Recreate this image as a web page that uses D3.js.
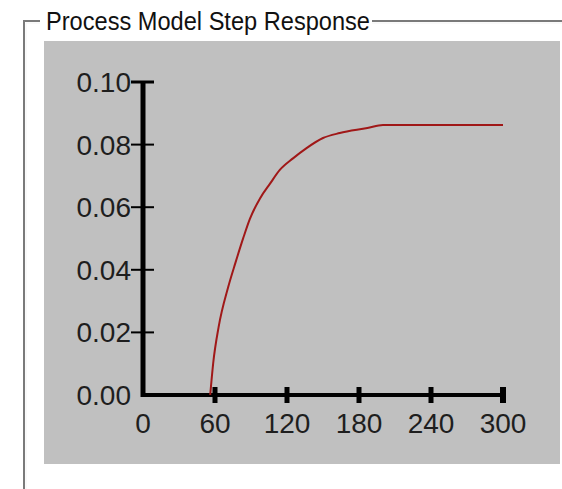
<!DOCTYPE html>
<html>
<head>
<meta charset="utf-8">
<script src="https://cdn.jsdelivr.net/npm/d3@7"></script>
<style>
  html, body { margin: 0; padding: 0; background: #ffffff; }
  svg { display: block; }
</style>
</head>
<body>
<div id="chart"></div>
<script>
"use strict";

const chtWidth = 562,
  chtHeight = 489;

// Step response samples (time, response)
const stepTime = [56, 58.5, 63, 71, 77, 83.5, 89, 97.5, 106, 114, 125, 136, 150, 164, 187, 200, 300];
const stepValue = [0, 0.0102, 0.0217, 0.0345, 0.0422, 0.0501, 0.0562, 0.0628, 0.0676, 0.0719,
  0.0756, 0.0788, 0.0821, 0.0837, 0.0853, 0.0863, 0.0863];

const xTicks = [0, 60, 120, 180, 240, 300];
const yTicks = [0, 0.02, 0.04, 0.06, 0.08, 0.1];
const titleText = "Process Model Step Response";

const plot = { left: 143, right: 503, top: 82, bottom: 395 };

const svg = d3
  .select("#chart")
  .append("svg")
  .attr("width", chtWidth)
  .attr("height", chtHeight)
  .attr("viewBox", [0, 0, chtWidth, chtHeight]);

// group box frame (etched look)
const frame = svg.append("g").attr("fill", "none");
frame.append("path")
  .attr("d", `M562,21 H372 M40,21 H24 V489`)
  .attr("stroke", "#7a7a7a")
  .attr("stroke-width", 2);
frame.append("path")
  .attr("d", `M562,23 H372 M40,23 H26 V489`)
  .attr("stroke", "#f4f4f4")
  .attr("stroke-width", 1);

svg.append("text")
  .attr("x", 46)
  .attr("y", 30)
  .attr("font-family", "Liberation Sans, Arial, sans-serif")
  .attr("font-size", 26)
  .attr("fill", "#111")
  .attr("textLength", 324)
  .attr("lengthAdjust", "spacingAndGlyphs")
  .text(titleText);

// grey panel
svg.append("rect")
  .attr("x", 44)
  .attr("y", 41)
  .attr("width", 516)
  .attr("height", 423)
  .attr("fill", "#c0c0c0");

const x = d3.scaleLinear().domain([0, 300]).range([plot.left, plot.right]);
const y = d3.scaleLinear().domain([0, 0.1]).range([plot.bottom, plot.top]);

const fontFam = "Liberation Sans, Arial, sans-serif";

// y axis
const gy = svg.append("g");
gy.append("line")
  .attr("x1", x(0)).attr("x2", x(0))
  .attr("y1", y(0.1) - 1).attr("y2", y(0) + 2)
  .attr("stroke", "#000").attr("stroke-width", 5);
gy.selectAll("line.tick")
  .data(yTicks.filter((d) => d > 0))
  .join("line")
  .attr("class", "tick")
  .attr("x1", x(0) - 12).attr("x2", x(0) + 11)
  .attr("y1", (d) => y(d)).attr("y2", (d) => y(d))
  .attr("stroke", "#000").attr("stroke-width", (d) => (d === 0.1 ? 3 : 2));
gy.selectAll("text")
  .data(yTicks)
  .join("text")
  .attr("x", x(0) - 12)
  .attr("y", (d) => y(d) + 10)
  .attr("text-anchor", "end")
  .attr("font-family", fontFam)
  .attr("font-size", 28)
  .attr("fill", "#1e1e1e")
  .text((d) => d3.format(".2f")(d));

// x axis
const gx = svg.append("g");
gx.append("line")
  .attr("x1", x(0) - 2).attr("x2", x(300) + 2)
  .attr("y1", y(0)).attr("y2", y(0))
  .attr("stroke", "#000").attr("stroke-width", 4);
gx.selectAll("rect.tick")
  .data(xTicks.filter((d) => d > 0))
  .join("rect")
  .attr("class", "tick")
  .attr("x", (d) => x(d) - (d === 300 ? 3 : 2.5))
  .attr("y", y(0) - 8)
  .attr("width", (d) => (d === 300 ? 6 : 5))
  .attr("height", 16)
  .attr("fill", "#000");
gx.selectAll("text")
  .data(xTicks)
  .join("text")
  .attr("x", (d) => x(d))
  .attr("y", 433)
  .attr("text-anchor", "middle")
  .attr("font-family", fontFam)
  .attr("font-size", 28)
  .attr("fill", "#1e1e1e")
  .text((d) => d);

// response curve
const line = d3
  .line()
  .curve(d3.curveMonotoneX)
  .x((d, i) => x(stepTime[i]))
  .y((d) => y(d));

svg.append("path")
  .datum(stepValue)
  .attr("d", line)
  .attr("fill", "none")
  .attr("stroke", "#a01818")
  .attr("stroke-width", 2);

// next group box label, cut off by the window edge as in the source
svg.append("text")
  .attr("x", 46)
  .attr("y", 509)
  .attr("font-family", fontFam)
  .attr("font-size", 26)
  .attr("fill", "#1a1a1a")
  .text("Process Variable");
</script>
</body>
</html>
